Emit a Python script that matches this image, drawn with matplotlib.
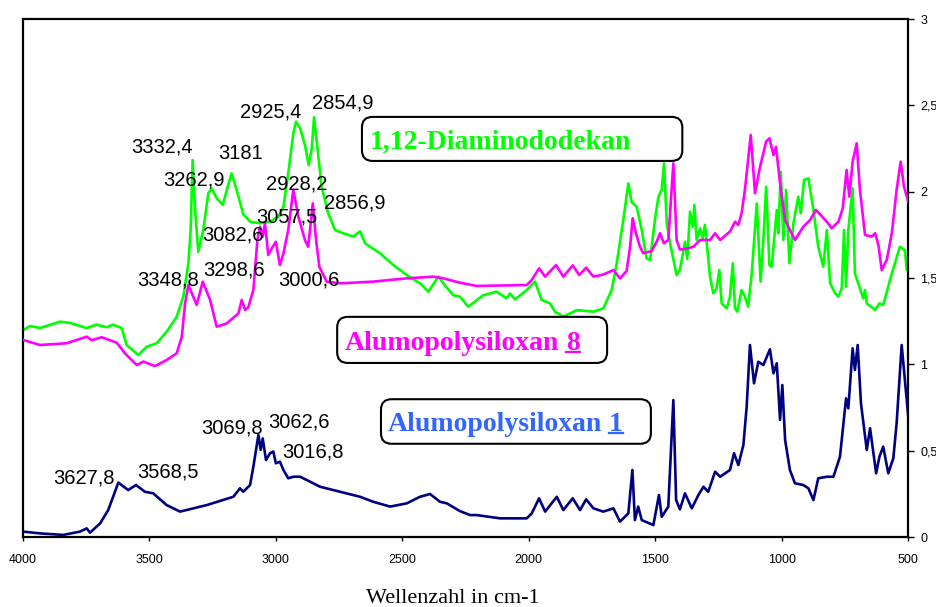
'''IR spectra of 1,12-Diaminododekan and two Alumopolysiloxanes, redrawn with matplotlib'''

import matplotlib
matplotlib.use("Agg")
import matplotlib.pyplot as plt
from matplotlib.patches import FancyBboxPatch
from matplotlib.lines import Line2D

# wavenumbers (cm-1) and absorbance
navy_wn = [3999, 3933, 3841, 3775, 3748, 3735, 3695, 3663, 3623, 3584, 3553, 3518, 3485, 3432, 3379,
           3273, 3168, 3142, 3129, 3102, 3089, 3069, 3060, 3052, 3039, 3023, 3010, 3000, 2984, 2970,
           2951, 2931, 2904, 2878, 2825, 2746, 2667, 2615, 2548, 2482, 2430, 2390, 2351, 2324, 2272,
           2232, 2206, 2113, 2008, 1988, 1959, 1935, 1889, 1863, 1826, 1797, 1773, 1744, 1705, 1665,
           1639, 1606, 1590, 1580, 1567, 1553, 1507, 1485, 1474, 1448, 1428, 1417, 1402, 1382, 1355,
           1329, 1309, 1290, 1263, 1243, 1204, 1188, 1171, 1151, 1138, 1125, 1109, 1092, 1072, 1046,
           1032, 1019, 1006, 997, 986, 967, 947, 914, 894, 874, 855, 821, 795, 769, 745,
           736, 719, 710, 699, 686, 663, 650, 626, 613, 598, 578, 558, 545, 525, 499]
navy_abs = [0.031, 0.021, 0.012, 0.031, 0.050, 0.025, 0.079, 0.156, 0.315, 0.272, 0.301, 0.262, 0.253, 0.185, 0.147,
            0.185, 0.233, 0.282, 0.262, 0.301, 0.407, 0.591, 0.504, 0.571, 0.446, 0.485, 0.495, 0.427, 0.436, 0.388,
            0.340, 0.349, 0.349, 0.330, 0.291, 0.262, 0.233, 0.204, 0.176, 0.195, 0.233, 0.249, 0.204, 0.195, 0.150,
            0.127, 0.127, 0.108, 0.108, 0.137, 0.224, 0.147, 0.233, 0.156, 0.224, 0.156, 0.218, 0.166, 0.147, 0.166,
            0.089, 0.137, 0.388, 0.098, 0.176, 0.098, 0.069, 0.243, 0.117, 0.176, 0.793, 0.214, 0.160, 0.253, 0.166,
            0.243, 0.291, 0.262, 0.378, 0.349, 0.388, 0.485, 0.417, 0.533, 0.755, 1.112, 0.890, 1.015, 0.996, 1.087,
            0.948, 1.006, 0.678, 0.880, 0.562, 0.388, 0.311, 0.301, 0.282, 0.214, 0.340, 0.349, 0.349, 0.465, 0.803,
            0.745, 1.093, 0.967, 1.112, 0.774, 0.504, 0.630, 0.369, 0.465, 0.523, 0.369, 0.456, 0.658, 1.112, 0.697]

magenta_wn = [3999, 3933, 3827, 3748, 3728, 3689, 3629, 3597, 3550, 3524, 3478, 3432, 3392, 3372, 3359,
              3346, 3313, 3289, 3260, 3234, 3194, 3148, 3135, 3122, 3109, 3089, 3073, 3063, 3052, 3043,
              3030, 3016, 3000, 2984, 2970, 2951, 2931, 2911, 2885, 2872, 2854, 2841, 2828, 2799, 2746,
              2615, 2482, 2377, 2338, 2272, 2206, 2008, 1988, 1959, 1935, 1892, 1863, 1826, 1800, 1773,
              1744, 1705, 1665, 1639, 1613, 1599, 1589, 1576, 1560, 1547, 1514, 1494, 1481, 1465, 1448,
              1428, 1415, 1402, 1375, 1349, 1322, 1283, 1263, 1243, 1204, 1184, 1171, 1158, 1145, 1122,
              1105, 1085, 1061, 1048, 1032, 1022, 1006, 986, 967, 947, 914, 887, 864, 821, 802,
              775, 758, 743, 732, 719, 703, 690, 670, 643, 630, 617, 604, 584, 564, 545,
              529, 516, 499]
magenta_abs = [1.141, 1.112, 1.122, 1.160, 1.140, 1.157, 1.125, 1.064, 0.996, 1.016, 0.990, 1.025, 1.064, 1.160, 1.353,
               1.459, 1.344, 1.479, 1.373, 1.218, 1.237, 1.295, 1.373, 1.315, 1.330, 1.430, 1.720, 1.797, 1.739, 1.817,
               1.633, 1.672, 1.710, 1.575, 1.643, 1.778, 2.010, 1.855, 1.720, 1.681, 1.932, 1.720, 1.565, 1.479, 1.469,
               1.479, 1.498, 1.508, 1.498, 1.473, 1.454, 1.459, 1.488, 1.556, 1.508, 1.575, 1.508, 1.573, 1.517, 1.560,
               1.508, 1.520, 1.546, 1.498, 1.540, 1.681, 1.846, 1.759, 1.681, 1.643, 1.656, 1.710, 1.759, 1.701, 1.720,
               2.164, 1.720, 1.665, 1.670, 1.681, 1.720, 1.720, 1.759, 1.720, 1.769, 1.826, 1.807, 1.875, 2.010, 2.328,
               1.991, 2.145, 2.290, 2.309, 2.212, 2.260, 2.048, 1.836, 1.778, 1.720, 1.797, 1.836, 1.894, 1.826, 1.788,
               1.826, 1.904, 2.125, 1.971, 2.174, 2.280, 2.010, 1.749, 1.740, 1.759, 1.691, 1.546, 1.604, 1.759, 2.010,
               2.174, 2.030, 1.942]

green_wn = [3999, 3972, 3933, 3854, 3814, 3748, 3709, 3669, 3643, 3610, 3590, 3544, 3511, 3471, 3432,
            3392, 3366, 3346, 3337, 3329, 3320, 3307, 3287, 3267, 3254, 3234, 3210, 3194, 3175, 3155,
            3129, 3102, 3063, 3023, 2990, 2970, 2951, 2931, 2920, 2904, 2885, 2870, 2858, 2849, 2836,
            2819, 2793, 2766, 2733, 2694, 2667, 2647, 2588, 2535, 2482, 2430, 2397, 2357, 2338, 2298,
            2272, 2239, 2180, 2127, 2087, 2074, 2054, 2008, 1975, 1949, 1916, 1896, 1863, 1810, 1744,
            1705, 1672, 1652, 1626, 1606, 1593, 1573, 1553, 1534, 1520, 1501, 1487, 1474, 1465, 1454,
            1441, 1415, 1402, 1382, 1373, 1362, 1351, 1345, 1336, 1322, 1312, 1303, 1283, 1270, 1257,
            1246, 1237, 1217, 1204, 1193, 1184, 1175, 1158, 1145, 1132, 1118, 1098, 1083, 1072, 1061,
            1048, 1039, 1019, 1013, 1003, 993, 982, 969, 953, 934, 924, 911, 894, 874, 855,
            835, 821, 808, 788, 775, 762, 753, 745, 736, 727, 719, 710, 690, 677, 670,
            663, 630, 613, 598, 564, 532, 512, 505, 499]
green_abs = [1.199, 1.222, 1.210, 1.247, 1.240, 1.210, 1.230, 1.215, 1.230, 1.210, 1.112, 1.054, 1.102, 1.122, 1.189,
             1.276, 1.392, 1.585, 1.777, 2.183, 1.910, 1.652, 1.778, 1.991, 2.019, 1.962, 1.923, 2.010, 2.106, 2.010,
             1.870, 1.826, 1.817, 1.826, 1.855, 1.913, 2.106, 2.338, 2.405, 2.367, 2.270, 2.154, 2.250, 2.431, 2.260,
             2.029, 1.875, 1.778, 1.759, 1.740, 1.770, 1.700, 1.643, 1.575, 1.517, 1.469, 1.421, 1.508, 1.469, 1.400,
             1.392, 1.334, 1.400, 1.421, 1.382, 1.410, 1.376, 1.430, 1.479, 1.373, 1.353, 1.305, 1.276, 1.314, 1.305,
             1.324, 1.430, 1.585, 1.836, 2.048, 1.940, 1.913, 1.778, 1.614, 1.604, 1.836, 1.971, 2.010, 2.164, 1.817,
             1.701, 1.517, 1.546, 1.710, 1.610, 1.884, 1.797, 1.923, 1.720, 1.788, 1.730, 1.807, 1.508, 1.411, 1.440,
             1.546, 1.353, 1.324, 1.392, 1.585, 1.324, 1.305, 1.430, 1.392, 1.334, 1.527, 1.932, 1.479, 1.720, 2.029,
             1.575, 1.565, 1.894, 1.759, 2.116, 1.720, 2.010, 1.585, 1.817, 1.971, 1.875, 2.068, 2.077, 1.894, 1.681,
             1.565, 1.778, 1.469, 1.411, 1.392, 1.440, 1.778, 1.450, 1.778, 1.904, 2.019, 1.527, 1.440, 1.382, 1.430,
             1.353, 1.315, 1.353, 1.344, 1.527, 1.681, 1.660, 1.546, 1.620]

# peak labels (text, wavenumber and absorbance of the text's lower left corner)
peak_labels = ["2925,4", "2854,9", "3332,4", "3181", "3262,9", "2928,2", "2856,9", "3057,5",
               "3082,6", "3348,8", "3298,6", "3000,6", "3627,8", "3568,5", "3069,8", "3062,6", "3016,8"]
label_wn = [3142, 2857, 3573, 3229, 3446, 3039, 2810, 3079,
            3292, 3549, 3288, 2991, 3881, 3549, 3296, 3031, 2976]
label_abs = [2.427, 2.484, 2.224, 2.189, 2.033, 2.010, 1.900, 1.824,
             1.720, 1.459, 1.517, 1.454, 0.307, 0.342, 0.597, 0.637, 0.458]

y_ticks = [0, 0.5, 1, 1.5, 2, 2.5, 3]
y_tick_labels = ["0", "0,5", "1", "1,5", "2", "2,5", "3"]
x_ticks = [4000, 3500, 3000, 2500, 2000, 1500, 1000, 500]

fig = plt.figure(figsize=(9.37, 6.07), dpi=100)
ax = fig.add_axes([23 / 937, 70 / 607, 885 / 937, 518 / 607])

# the three spectra
ax.plot(green_wn, green_abs, color="#00ff00", lw=1.9, zorder=2)
ax.plot(magenta_wn, magenta_abs, color="#ff00ff", lw=1.9, zorder=3)
ax.plot(navy_wn, navy_abs, color="#000080", lw=1.9, zorder=3)

ax.set_xlim(4000, 500)
ax.set_ylim(0, 3)

# y axis only on the right side
ax.yaxis.tick_right()
ax.set_yticks(y_ticks)
ax.set_yticklabels(y_tick_labels, fontsize=9, family="Liberation Sans")
ax.set_xticks(x_ticks)
ax.set_xticklabels([str(t) for t in x_ticks], fontsize=9, family="Liberation Sans")
ax.tick_params(axis='y', direction='out', length=4, width=1, pad=5)
ax.tick_params(axis='x', direction='out', length=3, width=1, pad=9)
for side in ax.spines:
    ax.spines[side].set_linewidth(1.6)

# peak labels
for txt, wn, a in zip(peak_labels, label_wn, label_abs):
    ax.text(wn, a, txt, fontsize=14.5, family="Liberation Sans", ha="left", va="baseline", zorder=5)

# boxed names of the compounds (axes fraction coordinates), the number after the name is underlined
boxes = [
    (0.383, 0.726, 0.362, 0.085, "1,12-Diaminododekan", "", "#00ff00", 0.392, 0.768),
    (0.355, 0.336, 0.305, 0.089, "Alumopolysiloxan", "8", "#ff00ff", 0.364, 0.380),
    (0.4045, 0.180, 0.305, 0.086, "Alumopolysiloxan", "1", "#3366ff", 0.412, 0.223),
]
numbers = []
for bx, by, bw, bh, name, num, col, tx, ty in boxes:
    patch = FancyBboxPatch((bx, by), bw, bh, boxstyle="round,pad=0,rounding_size=0.012",
                           transform=ax.transAxes, facecolor="white", edgecolor="black",
                           lw=1.5, zorder=6, mutation_aspect=1.7)
    ax.add_patch(patch)
    t = ax.text(tx, ty, name, transform=ax.transAxes, color=col, fontsize=20, fontweight="bold",
                family="Liberation Serif", ha="left", va="center_baseline", zorder=7)
    if num:
        n = ax.annotate(num, xy=(1, 0), xycoords=t, xytext=(5, 0), textcoords="offset points",
                        color=col, fontsize=20, fontweight="bold", family="Liberation Serif",
                        ha="left", va="bottom", zorder=7)
        numbers.append((n, col))

fig.text(453 / 937, 1 - 589 / 607, "Wellenzahl in cm-1", fontsize=16, family="Liberation Serif",
         ha="center", va="top")

# draw once to know where the numbers are, then underline them
fig.canvas.draw()
for n, col in numbers:
    bb = n.get_window_extent()
    y = bb.y0 + 4
    fig.add_artist(Line2D([bb.x0 / 937, bb.x1 / 937], [y / 607, y / 607],
                          transform=fig.transFigure, color=col, lw=1.6, zorder=8))

fig.savefig("out.png", dpi=100)
